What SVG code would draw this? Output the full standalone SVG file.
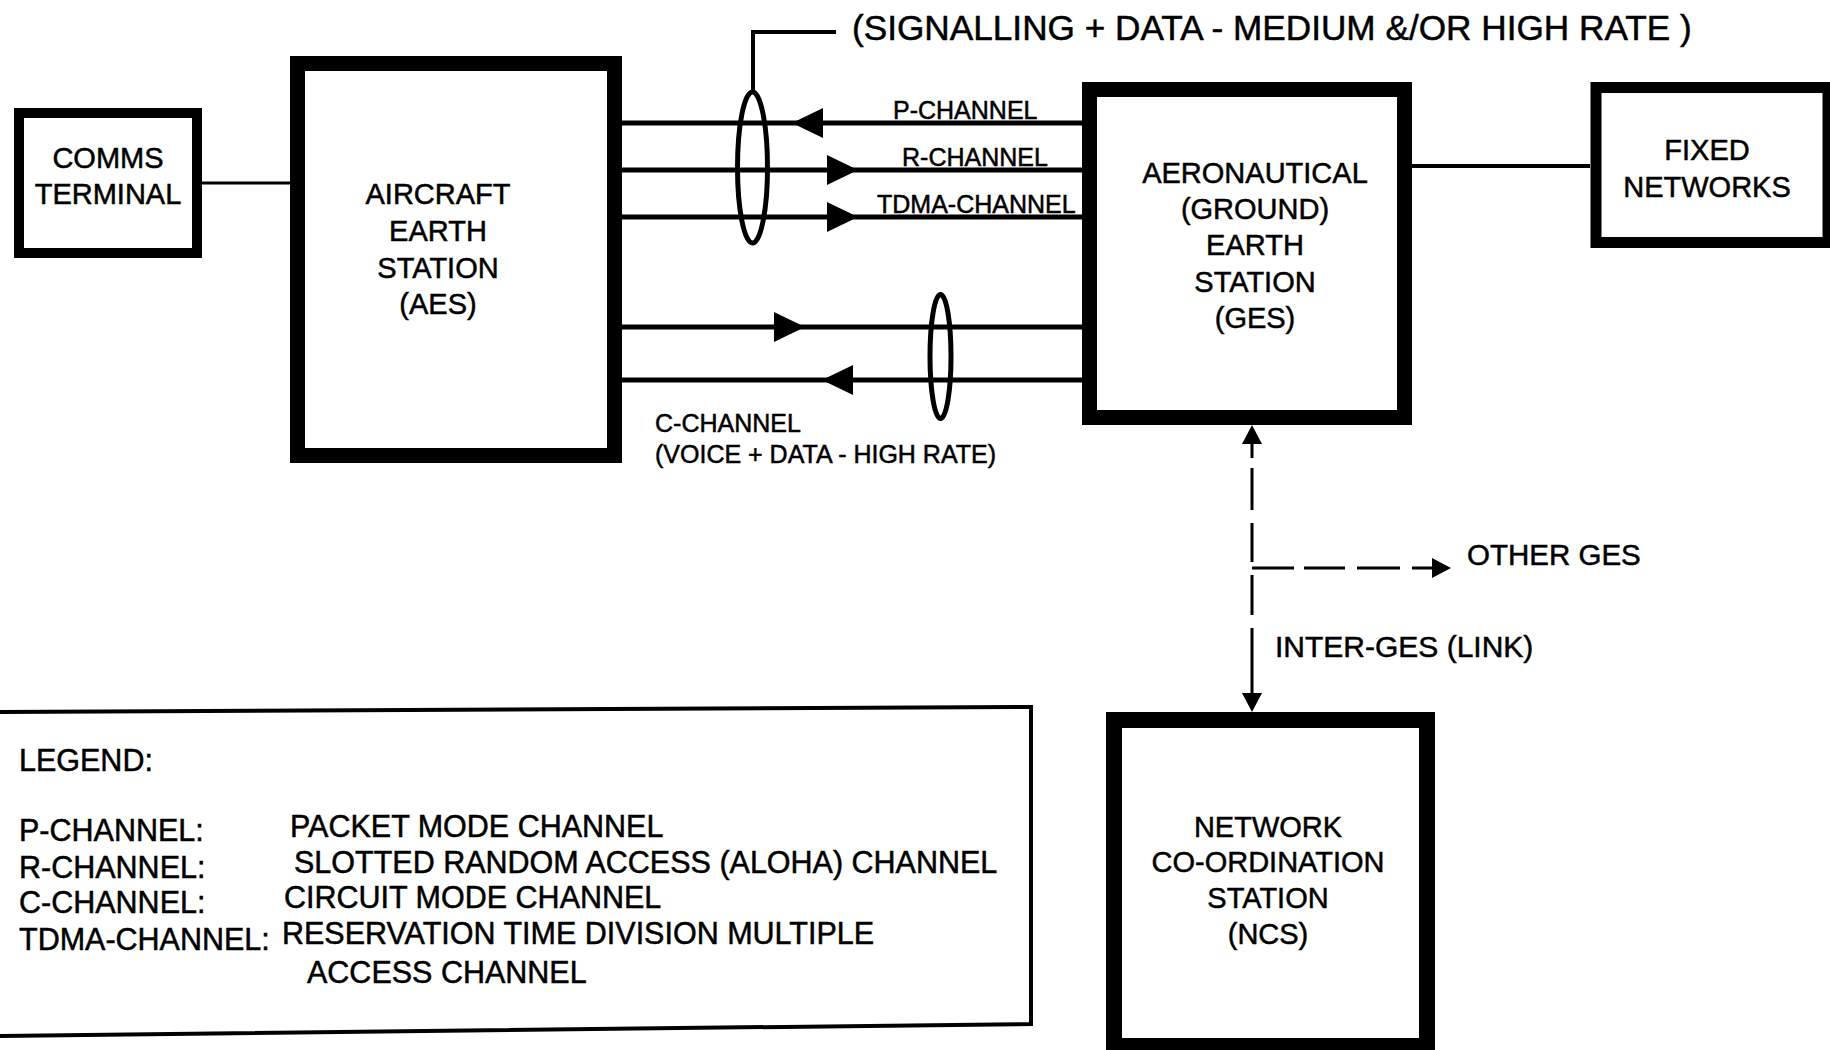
<svg xmlns="http://www.w3.org/2000/svg" xmlns:xlink="http://www.w3.org/1999/xlink" width="1830" height="1050" viewBox="0 0 1830 1050">
<style>
.box{fill:#fff;stroke:#000}
.t{font-family:"Liberation Sans",Arial,Helvetica,sans-serif;fill:#000;stroke:#000;stroke-width:0.5px}
.bx{font-size:29px;text-anchor:middle}
.ch{font-size:25px}
.lg{font-size:30.5px}
.ln{stroke:#000;fill:none}
</style>
<defs>
<path id="tri" d="M0,0 L-31,-15 L-31,15 Z" fill="#000"/>
<path id="tris" d="M0,0 L-19,-10 L-19,10 Z" fill="#000"/>
</defs>
<rect x="0" y="0" width="1830" height="1050" fill="#fff"/>

<g id="connectors">
  <line class="ln" x1="202" y1="183" x2="290" y2="183" stroke-width="3"/>
  <line class="ln" x1="1412" y1="166" x2="1590" y2="166" stroke-width="4"/>
  <g stroke-width="5" class="ln">
    <line x1="622" y1="123" x2="1084" y2="123"/>
    <line x1="622" y1="170" x2="1084" y2="170"/>
    <line x1="622" y1="217" x2="1084" y2="217"/>
    <line x1="622" y1="327" x2="1084" y2="327"/>
    <line x1="622" y1="380" x2="1084" y2="380"/>
  </g>
  <use xlink:href="#tri" transform="translate(792,123) rotate(180)"/>
  <use xlink:href="#tri" transform="translate(858,170)"/>
  <use xlink:href="#tri" transform="translate(858,217)"/>
  <use xlink:href="#tri" transform="translate(805,327)"/>
  <use xlink:href="#tri" transform="translate(822,380) rotate(180)"/>
  <ellipse cx="752.5" cy="167.5" rx="15" ry="75.5" fill="none" stroke="#000" stroke-width="5"/>
  <ellipse cx="940.5" cy="356.5" rx="10.5" ry="62" fill="none" stroke="#000" stroke-width="5"/>
  <path class="ln" d="M753,92 V32 H836" stroke-width="4"/>
  <path class="ln" d="M1252,440 V458 M1252,468 V510 M1252,523 V562 M1252,575 V615 M1252,628 V694" stroke-width="3"/>
  <path class="ln" d="M1252,568 H1294 M1304,568 H1345 M1357,568 H1400 M1412,568 H1434" stroke-width="3"/>
  <use xlink:href="#tris" transform="translate(1252,425) rotate(-90)"/>
  <use xlink:href="#tris" transform="translate(1252,712) rotate(90)"/>
  <use xlink:href="#tris" transform="translate(1451,568)"/>
  <text class="t" x="852" y="40" font-size="35.2">(SIGNALLING + DATA - MEDIUM &amp;/OR HIGH RATE )</text>
  <text class="t ch" x="893" y="119">P-CHANNEL</text>
  <text class="t ch" x="902" y="166">R-CHANNEL</text>
  <text class="t ch" x="877" y="213">TDMA-CHANNEL</text>
  <text class="t ch" x="655" y="432">C-CHANNEL</text>
  <text class="t ch" x="655" y="463">(VOICE + DATA - HIGH RATE)</text>
  <text class="t" x="1467" y="565" font-size="29.5">OTHER GES</text>
  <text class="t" x="1275" y="657" font-size="30">INTER-GES (LINK)</text>
</g>

<g id="comms">
  <rect class="box" x="19" y="113" width="178" height="140" stroke-width="10"/>
  <text class="t bx" x="108" y="168">COMMS</text>
  <text class="t bx" x="108" y="204">TERMINAL</text>
</g>

<g id="aes">
  <rect class="box" x="297.5" y="63.5" width="317" height="392" stroke-width="15"/>
  <text class="t bx" x="438" y="204">AIRCRAFT</text>
  <text class="t bx" x="438" y="241">EARTH</text>
  <text class="t bx" x="438" y="278">STATION</text>
  <text class="t bx" x="438" y="314">(AES)</text>
</g>

<g id="ges">
  <rect class="box" x="1089.5" y="89.5" width="315" height="328" stroke-width="15"/>
  <text class="t bx" x="1255" y="183" font-size="29.5">AERONAUTICAL</text>
  <text class="t bx" x="1255" y="219">(GROUND)</text>
  <text class="t bx" x="1255" y="255">EARTH</text>
  <text class="t bx" x="1255" y="292">STATION</text>
  <text class="t bx" x="1255" y="328">(GES)</text>
</g>

<g id="fixed">
  <rect class="box" x="1596" y="87.5" width="232" height="155" stroke-width="11"/>
  <text class="t bx" x="1707" y="160">FIXED</text>
  <text class="t bx" x="1707" y="197">NETWORKS</text>
</g>

<g id="ncs">
  <rect class="box" x="1114" y="720" width="313" height="326" stroke-width="16"/>
  <text class="t bx" x="1268" y="837" font-size="30">NETWORK</text>
  <text class="t bx" x="1268" y="872" font-size="30">CO-ORDINATION</text>
  <text class="t bx" x="1268" y="908" font-size="30">STATION</text>
  <text class="t bx" x="1268" y="944" font-size="30">(NCS)</text>
</g>

<g id="legend">
  <path class="ln" d="M0,712 L1031,707 L1031,1024 L0,1036" stroke-width="4"/>
  <text class="t lg" x="19" y="771">LEGEND:</text>
  <text class="t lg" x="19" y="841">P-CHANNEL:</text>
  <text class="t lg" x="290" y="837">PACKET MODE CHANNEL</text>
  <text class="t lg" x="19" y="878">R-CHANNEL:</text>
  <text class="t lg" x="294" y="873">SLOTTED RANDOM ACCESS (ALOHA) CHANNEL</text>
  <text class="t lg" x="19" y="913">C-CHANNEL:</text>
  <text class="t lg" x="284" y="908">CIRCUIT MODE CHANNEL</text>
  <text class="t lg" x="19" y="950">TDMA-CHANNEL:</text>
  <text class="t lg" x="282" y="944">RESERVATION TIME DIVISION MULTIPLE</text>
  <text class="t lg" x="307" y="983">ACCESS CHANNEL</text>
</g>
</svg>
